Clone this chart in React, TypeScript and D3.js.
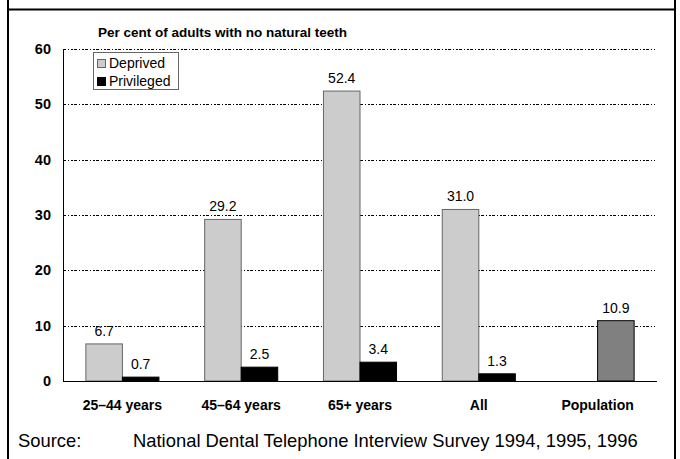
import React, { useEffect, useRef } from 'react';
import * as d3 from 'd3';

const categories = ['25–44 years', '45–64 years', '65+ years', 'All', 'Population'];
const deprived = [6.7, 29.2, 52.4, 31.0, null];
const privileged = [0.7, 2.5, 3.4, 1.3, null];
const population = [null, null, null, null, 10.9];
const yTicks = [0, 10, 20, 30, 40, 50, 60];

const W = 680, H = 459;
const margin = { left: 63, right: 23, top: 49, bottom: 78 };

export default function App() {
  const ref = useRef<SVGSVGElement>(null);

  useEffect(() => {
    const svg = d3.select(ref.current);
    svg.selectAll('*').remove();
    const font = 'Liberation Sans, Arial, sans-serif';

    const x0 = d3.scaleBand<string>()
      .domain(categories)
      .range([margin.left, W - margin.right])
      .paddingInner(0.385)
      .paddingOuter(0.1925);
    const x1 = d3.scaleBand<string>()
      .domain(['a', 'b'])
      .range([0, x0.bandwidth()]);
    const y = d3.scaleLinear().domain([0, 60]).range([H - margin.bottom, margin.top]);

    // frame
    svg.append('line').attr('x1', 8).attr('x2', 8).attr('y1', 0).attr('y2', H)
      .attr('stroke', '#000').attr('stroke-width', 2);
    svg.append('line').attr('x1', 675).attr('x2', 675).attr('y1', 0).attr('y2', H)
      .attr('stroke', '#000').attr('stroke-width', 2);
    svg.append('line').attr('x1', 7).attr('x2', 676).attr('y1', 9.5).attr('y2', 9.5)
      .attr('stroke', '#000').attr('stroke-width', 2);

    // title
    svg.append('text')
      .attr('x', 98).attr('y', 37)
      .attr('font-family', font)
      .attr('font-weight', 'bold').attr('font-size', 13.5)
      .text('Per cent of adults with no natural teeth');

    // gridlines
    svg.append('g').selectAll('line')
      .data(yTicks.filter(d => d > 0))
      .enter().append('line')
      .attr('x1', margin.left).attr('x2', 655)
      .attr('y1', d => Math.round(y(d)) + 0.5).attr('y2', d => Math.round(y(d)) + 0.5)
      .attr('stroke', '#000').attr('stroke-width', 1)
      .attr('stroke-dasharray', '3,2,1,2,2,1');

    // y tick labels
    svg.append('g').selectAll('text')
      .data(yTicks)
      .enter().append('text')
      .attr('x', 51).attr('y', d => y(d))
      .attr('dy', '0.35em')
      .attr('text-anchor', 'end')
      .attr('font-family', font)
      .attr('font-weight', 'bold').attr('font-size', 14.5)
      .text(d => d);

    const drawBars = (vals: (number | null)[], slot: string, fill: string, stroke: string) => {
      const data = vals.map((v, i) => ({ v, c: categories[i] })).filter(d => d.v != null) as { v: number; c: string }[];
      svg.append('g').selectAll('rect')
        .data(data)
        .enter().append('rect')
        .attr('x', d => (x0(d.c) as number) + (x1(slot) as number))
        .attr('width', x1.bandwidth())
        .attr('y', d => y(d.v))
        .attr('height', d => y(0) - y(d.v))
        .attr('fill', fill)
        .attr('stroke', stroke).attr('stroke-width', 1);
      svg.append('g').selectAll('text')
        .data(data)
        .enter().append('text')
        .attr('x', d => (x0(d.c) as number) + (x1(slot) as number) + x1.bandwidth() / 2)
        .attr('y', d => y(d.v) - 8)
        .attr('text-anchor', 'middle')
        .attr('font-family', font).attr('font-size', 14)
        .text(d => d.v.toFixed(1));
    };

    drawBars(deprived, 'a', '#cccccc', '#666666');
    drawBars(privileged, 'b', '#000000', '#000000');
    drawBars(population, 'b', '#808080', '#000000');

    // axes lines
    svg.append('line')
      .attr('x1', margin.left + 0.5).attr('x2', margin.left + 0.5)
      .attr('y1', y(60)).attr('y2', y(0))
      .attr('stroke', '#000');
    svg.append('line')
      .attr('x1', margin.left).attr('x2', 657)
      .attr('y1', y(0) + 0.5).attr('y2', y(0) + 0.5)
      .attr('stroke', '#000');

    // x labels
    svg.append('g').selectAll('text')
      .data(categories)
      .enter().append('text')
      .attr('x', d => (x0(d) as number) + x0.bandwidth() / 2)
      .attr('y', 410)
      .attr('text-anchor', 'middle')
      .attr('font-family', font).attr('font-weight', 'bold').attr('font-size', 14)
      .text(d => d);

    // legend
    const lg = svg.append('g');
    lg.append('rect').attr('x', 93.5).attr('y', 52.5).attr('width', 85).attr('height', 37)
      .attr('fill', '#fff').attr('stroke', '#666');
    const items = [
      { label: 'Deprived', fill: '#cccccc', stroke: '#666' },
      { label: 'Privileged', fill: '#000', stroke: '#000' },
    ];
    items.forEach((it, i) => {
      lg.append('rect').attr('x', 97.5).attr('y', 59.5 + i * 18).attr('width', 8).attr('height', 8)
        .attr('fill', it.fill).attr('stroke', it.stroke);
      lg.append('text').attr('x', 109).attr('y', 67.5 + i * 18)
        .attr('font-family', font).attr('font-size', 14)
        .text(it.label);
    });

    // source
    svg.append('text').attr('x', 18).attr('y', 447)
      .attr('font-family', font).attr('font-size', 18.4)
      .text('Source:');
    svg.append('text').attr('x', 133).attr('y', 447)
      .attr('font-family', font).attr('font-size', 18.4)
      .text('National Dental Telephone Interview Survey 1994, 1995, 1996');
  }, []);

  return (
    <svg ref={ref} width={W} height={H}
      style={{ position: 'absolute', left: 0, top: 0, background: '#fff' }} />
  );
}
